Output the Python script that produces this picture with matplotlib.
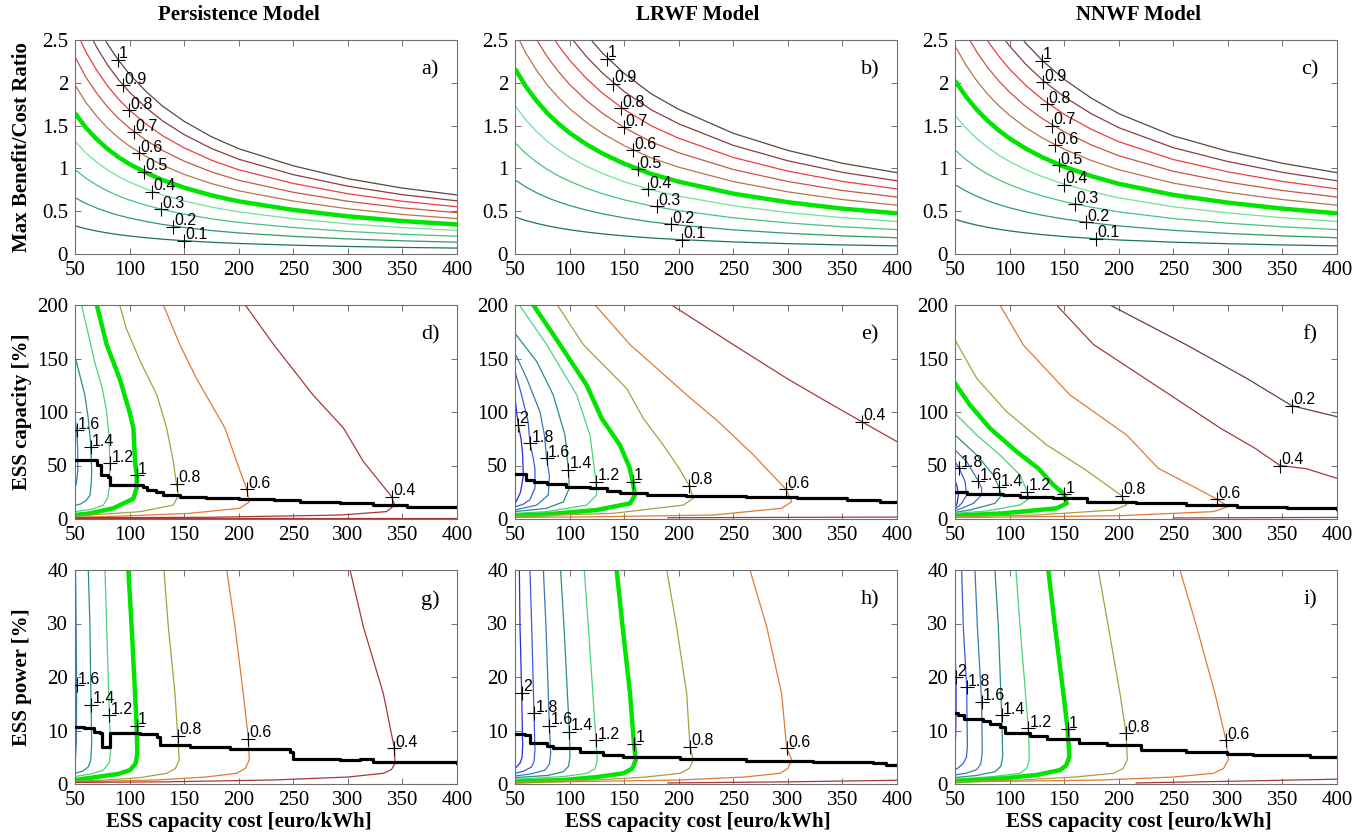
import matplotlib
matplotlib.use('Agg')
import matplotlib.pyplot as plt

plt.rcParams['font.family'] = ['Liberation Serif', 'DejaVu Serif']

# ---- top row: max benefit/cost ratio per unit level ----
cost_x = [50, 60, 70, 80, 90, 100, 115, 130, 150, 175, 200, 250, 300, 350, 400]
ratio_unit_a = [3.29, 2.95, 2.68, 2.45, 2.26, 2.10, 1.90, 1.73, 1.55, 1.37, 1.23, 1.03, 0.88, 0.77, 0.69]
ratio_unit_b = [4.33, 3.91, 3.57, 3.28, 3.04, 2.83, 2.57, 2.35, 2.11, 1.87, 1.69, 1.41, 1.21, 1.06, 0.95]
ratio_unit_c = [4.05, 3.68, 3.37, 3.11, 2.89, 2.70, 2.46, 2.26, 2.04, 1.82, 1.64, 1.38, 1.20, 1.06, 0.95]
top_levels = [0.1, 0.2, 0.3, 0.4, 0.5, 0.6, 0.7, 0.8, 0.9, 1.0]

top_labels_a = {1.0: (89.1, 2.27), 0.9: (93.7, 1.97), 0.8: (99.8, 1.68), 0.7: (104.4, 1.42),
                0.6: (108.6, 1.18), 0.5: (112.9, 0.96), 0.4: (120.8, 0.73), 0.3: (128.5, 0.52),
                0.2: (140.0, 0.32), 0.1: (149.9, 0.155)}
top_labels_b = {1.0: (134.0, 2.28), 0.9: (139.5, 1.99), 0.8: (147.1, 1.70), 0.7: (150.2, 1.48),
                0.6: (158.4, 1.21), 0.5: (163.0, 0.99), 0.4: (171.6, 0.76), 0.3: (179.8, 0.555),
                0.2: (192.6, 0.35), 0.1: (202.7, 0.166)}
top_labels_c = {1.0: (129.4, 2.26), 0.9: (130.9, 2.01), 0.8: (134.0, 1.75), 0.7: (138.6, 1.50),
                0.6: (141.6, 1.27), 0.5: (145.6, 1.04), 0.4: (149.9, 0.81), 0.3: (160.2, 0.58),
                0.2: (169.7, 0.37), 0.1: (179.1, 0.18)}

# ---- middle row: ESS capacity [%] contours (cost, capacity) ----
cap_d = {
    1.6: [(50, 95), (51.5, 83), (52.5, 65), (52.5, 45), (51.5, 35), (50, 28)],
    1.4: [(50, 152), (55, 132), (59, 116), (62, 95), (64, 75), (64.4, 67), (65.3, 45), (65, 35),
          (63.7, 22), (60, 17), (55, 14), (50, 12.5)],
    1.2: [(56, 200), (61, 178), (68, 147), (75, 122), (79, 100), (81, 80), (82, 52), (81.5, 30),
          (80, 20), (76, 13), (65, 9), (50, 7)],
    1.0: [(70, 200), (79, 163), (91, 131), (100, 100), (103.5, 85), (105, 54), (106.5, 41),
          (106.5, 29), (103.5, 19), (85, 10), (64, 5.3), (50, 3.7)],
    0.8: [(91, 200), (97, 178), (110, 147), (125, 116), (134, 85), (140, 54), (143, 33),
          (144.7, 22), (140, 13), (110, 6.9), (64, 3.7), (50, 2.8)],
    0.6: [(131, 200), (146, 163), (161.5, 131), (187.4, 85), (198, 54), (207.3, 28), (209.7, 16),
          (201, 10), (155, 5.3), (79, 2.2), (50, 1.8)],
    0.4: [(206, 200), (232, 163), (268, 116), (296, 85), (314, 54), (329, 35), (340, 21), (343, 13),
          (335.5, 6.9), (293, 3.7), (171, 1.6), (50, 1.2)],
}
cap_e = {
    2.0: [(50, 114), (51.5, 100), (53, 88), (55.5, 75), (57, 60), (57.6, 40), (55, 25), (52, 18), (50, 14.6)],
    1.8: [(50, 138), (56, 116), (62, 91), (63.7, 71), (66.5, 58), (68.3, 47), (68.3, 29), (63.7, 18),
          (57, 13.5), (50, 11.5)],
    1.6: [(50, 155), (60.7, 131.5), (72.9, 100), (77, 78), (79, 57), (81.5, 40), (80.5, 22.4),
          (70, 13), (50, 8.4)],
    1.4: [(50, 173.5), (70, 147), (85, 116), (95.8, 78.5), (98.9, 46), (99.8, 29), (94.3, 16),
          (79, 10), (50, 6.9)],
    1.2: [(54, 200), (79, 163), (106.5, 116), (118.7, 78.5), (124.2, 35), (124.8, 22.4), (115.7, 13),
          (79, 6.9), (50, 5.3)],
    1.0: [(66.8, 200), (91.2, 163), (115.7, 125), (129.4, 94), (146.2, 69), (155, 48), (157.8, 35),
          (159.9, 22.4), (155.4, 14.6), (124.8, 8.4), (79, 4.4), (50, 3.1)],
    0.8: [(88.8, 200), (112.6, 163), (152.3, 122), (167.6, 94), (185.9, 69), (200, 48), (209.7, 31),
          (213.4, 19.3), (204.2, 13), (140, 5.3), (50, 2.5)],
    0.6: [(123.3, 200), (155.4, 163), (207.3, 116), (236.3, 91), (268.4, 60), (285, 42), (298.3, 27.7),
          (303.5, 16.2), (294.3, 10), (231.7, 3.7), (109.6, 1.9), (50, 1.5)],
    0.4: [(193.5, 200), (250, 163), (298.9, 131.5), (335, 110), (367.6, 91), (400, 72.3)],
}
cap_f = {
    2.0: [(50, 36), (52, 30), (53, 22), (52, 15), (50, 10)],
    1.8: [(50, 53.6), (54, 47.3), (59.2, 35), (60.7, 22.4), (56.1, 14.6), (50, 9)],
    1.6: [(50, 64.5), (60.7, 53.6), (71.4, 35.5), (74.4, 28.7), (74.4, 22.4), (66.8, 14.6), (50, 7.5)],
    1.4: [(50, 78.5), (69.9, 59.8), (85.1, 41.1), (90.3, 29.6), (92.8, 22.4), (86.6, 14.6),
          (63.7, 8.4), (50, 6.2)],
    1.2: [(50, 98.7), (69.9, 78.5), (91.2, 59.8), (109.6, 41.1), (116.3, 25.5), (118.1, 19.3),
          (109.6, 13.1), (79, 7.5), (50, 5.3)],
    1.0: [(50, 126.8), (63.7, 106.5), (82.1, 84.7), (106.5, 62.9), (126.3, 47.3), (140.1, 31.8),
          (149.9, 23.4), (152.3, 14.6), (143.1, 10), (94.3, 5.3), (50, 3.1)],
    0.8: [(50, 167.3), (69.9, 131.5), (97.3, 100.3), (134, 69.2), (167.6, 47.3), (189, 31.8),
          (202.7, 21.8), (207.3, 13.1), (195.1, 8.4), (124.8, 3.7), (50, 2.2)],
    0.6: [(91.2, 200), (112.6, 162.6), (155.4, 115.9), (207.3, 78.5), (236.3, 47.3), (271.4, 28.7),
          (289.7, 18.7), (300.4, 11.5), (286.7, 6.9), (201.2, 3.1), (79, 1.6), (50, 1.4)],
    0.4: [(143, 200), (177, 163), (247, 116), (293, 85), (325, 66), (347.8, 50), (372, 47), (400, 38)],
    0.2: [(192, 200), (262.3, 162.6), (317.2, 131.5), (358.5, 105.9), (400, 95.6)],
}
cap_labels_d = {1.6: (51.5, 83), 1.4: (64.4, 67), 1.2: (82, 52), 1.0: (106.5, 41), 0.8: (143, 33),
                0.6: (207.3, 28), 0.4: (340, 21)}
cap_labels_e = {2.0: (53, 88), 1.8: (63.7, 71), 1.6: (79, 57), 1.4: (98.9, 46), 1.2: (124.2, 35),
                1.0: (157.8, 35), 0.8: (209.7, 31), 0.6: (298.3, 27.7), 0.4: (367.6, 91)}
cap_labels_f = {1.8: (54, 47.3), 1.6: (71.4, 35.5), 1.4: (90.3, 29.6), 1.2: (116.3, 25.5),
                1.0: (149.9, 23.4), 0.8: (202.7, 21.8), 0.6: (289.7, 18.7), 0.4: (347.8, 50),
                0.2: (358.5, 105.9)}
cap_opt_x_d = [50, 70, 74, 80, 82, 112, 116, 124, 131, 146, 170, 200, 232, 256, 293, 323, 354, 400]
cap_opt_y_d = [55, 50.5, 41, 39.6, 31.8, 30.2, 27.1, 25.5, 22.4, 20.9, 19.9, 18.7, 17.8, 15.6, 14.6, 13.1, 11.5, 11.2]
cap_opt_x_e = [50, 60, 67, 79, 97, 119, 134, 146, 171, 207, 262, 308, 354, 384, 400]
cap_opt_y_e = [41.7, 36.4, 34.9, 32.4, 30.2, 29.3, 26.2, 24, 22.4, 21.5, 20.2, 19.3, 17.8, 16.2, 15.6]
cap_opt_x_f = [50, 58, 61, 94, 110, 140, 171, 216, 262, 308, 354, 400]
cap_opt_y_f = [25.5, 24.9, 23, 22.4, 20.9, 19.3, 16.2, 14.6, 13.1, 11.2, 10, 9.7]
cap_low_d = [(50, 0.5), (400, 0.5)]
cap_low_e = [(190, 1.2), (400, 1.8)]
cap_low_f = [(250, 1.0), (400, 1.5)]

# ---- bottom row: ESS power [%] contours ----
pow_g = {
    1.6: [(50.5, 40), (51, 30), (51.5, 18.5), (51.3, 8), (50.5, 5), (50, 4)],
    1.4: [(62.2, 40), (63.7, 29.4), (64.7, 14.8), (65.3, 7.6), (64.5, 4.5), (62.2, 3.2), (57, 2.4), (50, 2)],
    1.2: [(77.5, 40), (79, 29.4), (81.5, 12.9), (82.7, 6.4), (81.5, 4), (76, 2.6), (65, 1.9), (50, 1.4)],
    1.0: [(98.9, 40), (101.9, 29.4), (105, 16.9), (106.5, 10.9), (107.1, 5.7), (105.5, 3.8), (100.4, 2.6),
          (90, 1.9), (72.9, 1.4), (50, 0.75)],
    0.8: [(131.5, 40), (135.5, 29.4), (141.6, 16.9), (144.1, 9), (145.6, 4.5), (142, 2.9), (134, 2),
          (110, 1.2), (79, 0.75), (50, 0.5)],
    0.6: [(189, 40), (196.6, 29.4), (204.2, 16.9), (208.8, 8.5), (209.7, 4.5), (206, 2.9), (198.1, 2),
          (170, 1.3), (124.8, 0.75), (50, 0.4)],
    0.4: [(302, 40), (314.2, 29.4), (332.5, 16.9), (342.6, 6.7), (343.2, 3.9), (340, 2.7), (332.5, 2),
          (300, 1.3), (231.7, 0.75), (130.9, 0.4), (50, 0.3)],
}
pow_h = {
    2.0: [(54, 40), (54.6, 29.4), (56.1, 17.1), (57, 7), (56.5, 5), (54.6, 3.9), (50, 2.9)],
    1.8: [(63.7, 40), (65.3, 29.4), (67.4, 13.2), (68.3, 6.4), (67.5, 4.3), (65.3, 3.2), (58, 2.4), (50, 2)],
    1.6: [(76, 40), (78.4, 29.4), (81.5, 10.9), (82.7, 5.7), (81.5, 3.7), (77.5, 2.6), (65, 1.9), (50, 1.5)],
    1.4: [(91.8, 40), (94.9, 29.4), (99.8, 9.8), (100.4, 5.1), (99, 3.3), (94.3, 2.3), (80, 1.6), (50, 1.2)],
    1.2: [(113.5, 40), (117.2, 29.4), (124.2, 8.2), (125.4, 4.5), (123.5, 2.9), (115.7, 2), (95, 1.4), (50, 0.9)],
    1.0: [(143.1, 40), (148.6, 29.4), (155.4, 16.9), (159, 7.5), (160.6, 4.5), (157.5, 2.9), (149.3, 2),
          (125, 1.3), (94.3, 0.75), (50, 0.45)],
    0.8: [(189, 40), (198.1, 29.4), (207.3, 16.9), (210.3, 7), (213.4, 4.5), (209.5, 2.9), (201.2, 2),
          (170, 1.3), (124.8, 0.75), (50, 0.4)],
    0.6: [(265.3, 40), (280.6, 29.4), (294.3, 16.9), (298.9, 6.7), (303.5, 4.5), (300, 2.9), (292.8, 2),
          (260, 1.3), (201.2, 0.75), (109.6, 0.45), (50, 0.35)],
}
pow_i = {
    2.0: [(50, 25), (50.9, 20), (51, 14), (50.6, 9), (50, 7)],
    1.8: [(56.1, 40), (57.6, 29.4), (60.7, 18.1), (61.3, 7), (60.5, 5), (57.6, 3.9), (53, 3), (50, 2.7)],
    1.6: [(68.3, 40), (70.5, 29.4), (74.4, 15.4), (75, 5.7), (73.5, 3.7), (69.9, 2.7), (60, 2), (50, 1.7)],
    1.4: [(86.6, 40), (89.7, 29.4), (92.8, 12.9), (93.7, 5.1), (92, 3.3), (86.6, 2.3), (70, 1.6), (50, 1.2)],
    1.2: [(105.9, 40), (109.6, 29.4), (117.2, 10.4), (118.1, 4.5), (116, 3), (109.6, 2), (85, 1.4), (50, 0.9)],
    1.0: [(135.5, 40), (141.6, 29.4), (149.3, 16.9), (153.2, 10.2), (154.8, 5.1), (152, 3.5), (146.2, 2.6),
          (125, 1.7), (94.3, 1.06), (50, 0.5)],
    0.8: [(181.3, 40), (190.5, 29.4), (201.2, 16.9), (206.7, 9.5), (207.9, 4.5), (204, 2.9), (195.1, 2),
          (160, 1.3), (109.6, 0.75), (50, 0.4)],
    0.6: [(256.1, 40), (271.4, 29.4), (288.2, 16.9), (298.3, 8.2), (300.4, 4.5), (296, 2.9), (286.7, 2),
          (250, 1.3), (185.9, 0.75), (79, 0.45), (50, 0.4)],
}
pow_labels_g = {1.6: (51.5, 18.5), 1.4: (64.7, 14.8), 1.2: (81.5, 12.9), 1.0: (106.5, 10.9),
                0.8: (144.1, 9), 0.6: (208.8, 8.5), 0.4: (342.6, 6.7)}
pow_labels_h = {2.0: (56.1, 17.1), 1.8: (67.4, 13.2), 1.6: (81.5, 10.9), 1.4: (99.8, 9.8),
                1.2: (124.2, 8.2), 1.0: (159, 7.5), 0.8: (210.3, 7), 0.6: (298.9, 6.7)}
pow_labels_i = {2.0: (50.9, 20), 1.8: (60.7, 18.1), 1.6: (74.4, 15.4), 1.4: (92.8, 12.9),
                1.2: (117.2, 10.4), 1.0: (153.2, 10.2), 0.8: (206.7, 9.5), 0.6: (298.3, 8.2)}
pow_opt_x_g = [50, 58, 67, 73, 74.4, 82, 110, 125, 128, 155, 192, 247, 250, 293, 311, 323, 369, 400]
pow_opt_y_g = [10.7, 10.4, 9.8, 9.5, 7, 9.5, 9.3, 8.8, 7.3, 7, 6.5, 6, 4.6, 4.5, 4.7, 4.2, 4.1, 4.0]
pow_opt_x_h = [50, 59, 64, 79, 85, 110, 131, 149, 201, 262, 323, 378, 390, 400]
pow_opt_y_h = [9.3, 9.2, 7.6, 7.1, 6.7, 6.0, 5.4, 5.0, 4.6, 4.3, 4.1, 3.9, 3.5, 3.5]
pow_opt_x_i = [50, 53, 58, 76, 82, 91, 96, 119, 134, 164, 189, 220, 262, 299, 323, 375, 400]
pow_opt_y_i = [13.2, 12.9, 12.1, 11.8, 11.3, 10.7, 9.6, 9, 8.5, 7.7, 7.3, 6.4, 6, 5.7, 5.4, 5.1, 5.1]
pow_low_h = [(190, 0.2), (300, 0.4), (400, 0.7)]
pow_low_i = [(216, 0.2), (300, 0.5), (400, 0.9)]

titles = ['Persistence Model', 'LRWF Model', 'NNWF Model']
title_x = [239, 698, 1139]
row_ylabels = ['Max Benefit/Cost Ratio', 'ESS capacity [%]', 'ESS power [%]']
xlabel = 'ESS capacity cost [euro/kWh]'

top_colors = {0.1: '#1f7452', 0.2: '#2f9c62', 0.3: '#48c47a', 0.4: '#6ee498', 0.5: '#00e400',
              0.6: '#b8744c', 0.7: '#c85446', 0.8: '#f03c3c', 0.9: '#8c3c3c', 1.0: '#5c4444'}
lvl_colors = {2.0: '#2a2ae6', 1.8: '#3a5cd8', 1.6: '#3a78b8', 1.4: '#2a8c8c', 1.2: '#4cd27c',
              1.0: '#00e400', 0.8: '#a8a040', 0.6: '#e07a38', 0.4: '#a83838', 0.2: '#684040'}

sans = ['Liberation Sans', 'DejaVu Sans']

W, H = 1359, 836
fig = plt.figure(figsize=(W / 100, H / 100), dpi=100)
lefts = [75, 515, 955]
row_bottoms = [254, 519, 784]
ax_w, ax_h = 382, 214


def make_ax(col, row):
    ax = fig.add_axes([lefts[col] / W, 1 - row_bottoms[row] / H, ax_w / W, ax_h / H])
    for s in ax.spines.values():
        s.set_color('#707070')
        s.set_linewidth(0.8)
    ax.tick_params(direction='in', length=4, width=0.7, color='#707070', top=True, right=True,
                   labelsize=15, pad=5)
    ax.set_xlim(50, 400)
    ax.set_xticks(range(50, 401, 50))
    return ax


def put_label(ax, x, y, lvl):
    ax.plot([x], [y], '+', color='k', ms=10, mew=0.8, zorder=5)
    ax.annotate('%g' % lvl, (x, y), xytext=(1, 1), textcoords='offset points', ha='left',
                va='baseline', fontsize=11.5, family=sans, zorder=6)


letters = 'abcdefghi'

# top row
for col, (unit, labs) in enumerate([(ratio_unit_a, top_labels_a), (ratio_unit_b, top_labels_b),
                                    (ratio_unit_c, top_labels_c)]):
    ax = make_ax(col, 0)
    for lvl in top_levels:
        ys = [lvl * u for u in unit]
        lw = 3.2 if lvl == 0.5 else 0.9
        ax.plot(cost_x, ys, color=top_colors[lvl], lw=lw, solid_capstyle='butt')
    for lvl, (x, y) in labs.items():
        put_label(ax, x, y, lvl)
    ax.set_ylim(0, 2.5)
    ax.set_yticks([0, 0.5, 1, 1.5, 2, 2.5])
    ax.set_yticklabels(['0', '0.5', '1', '1.5', '2', '2.5'])
    ax.text(0.93, 0.86, letters[col] + ')', transform=ax.transAxes, ha='center', va='center',
            fontsize=16)

# middle and bottom rows
panels = [
    (1, 0, cap_d, cap_labels_d, cap_opt_x_d, cap_opt_y_d, cap_low_d, 200),
    (1, 1, cap_e, cap_labels_e, cap_opt_x_e, cap_opt_y_e, cap_low_e, 200),
    (1, 2, cap_f, cap_labels_f, cap_opt_x_f, cap_opt_y_f, cap_low_f, 200),
    (2, 0, pow_g, pow_labels_g, pow_opt_x_g, pow_opt_y_g, None, 40),
    (2, 1, pow_h, pow_labels_h, pow_opt_x_h, pow_opt_y_h, pow_low_h, 40),
    (2, 2, pow_i, pow_labels_i, pow_opt_x_i, pow_opt_y_i, pow_low_i, 40),
]
for row, col, curves, labs, ox, oy, low, ymax in panels:
    ax = make_ax(col, row)
    if low is not None:
        ax.plot([p[0] for p in low], [p[1] for p in low], color='#a83838', lw=0.9)
    for lvl, pts in curves.items():
        lw = 3.2 if lvl == 1.0 else 0.9
        ax.plot([p[0] for p in pts], [p[1] for p in pts], color=lvl_colors[lvl], lw=lw)
    ax.plot(ox, oy, color='k', lw=2.3, drawstyle='steps-post', zorder=4)
    for lvl, (x, y) in labs.items():
        put_label(ax, x, y, lvl)
    ax.set_ylim(0, ymax)
    ax.set_yticks(range(0, ymax + 1, ymax // 4))
    ax.text(0.93, 0.86, letters[row * 3 + col] + ')', transform=ax.transAxes, ha='center',
            va='center', fontsize=16)

for t, x in zip(titles, title_x):
    fig.text(x / W, 1 - 15 / H, t, ha='center', va='center', fontsize=15, fontweight='bold')
    fig.text(x / W, 1 - 822 / H, xlabel, ha='center', va='center', fontsize=15, fontweight='bold')
for lab, yc in zip(row_ylabels, [147, 412, 677]):
    fig.text(22 / W, 1 - yc / H, lab, ha='center', va='center', rotation=90, fontsize=15,
             fontweight='bold')

fig.savefig('out.png', dpi=100)
